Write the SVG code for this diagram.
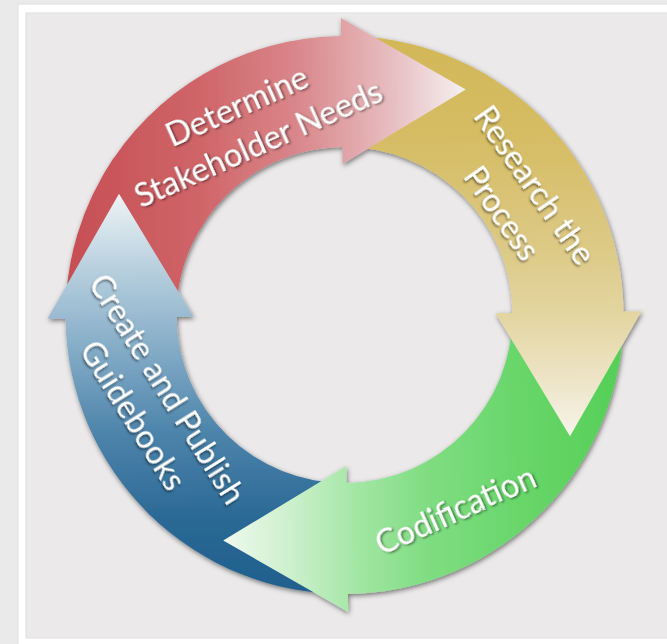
<svg xmlns="http://www.w3.org/2000/svg" width="667" height="644" viewBox="0 0 667 644">
  <style>
    .lbl { font-family: Lato, "Open Sans", "Liberation Sans", sans-serif; font-size: 33px; fill: #ffffff; text-anchor: middle; filter: url(#ts); }
  </style>
  <defs>
    <filter id="sh" x="-20%" y="-20%" width="140%" height="140%">
      <feDropShadow dx="1" dy="2" stdDeviation="2.6" flood-color="#000" flood-opacity="0.5"/>
    </filter>
    <filter id="ts" x="-10%" y="-30%" width="120%" height="160%">
      <feDropShadow dx="1.2" dy="1.5" stdDeviation="0.8" flood-color="#000" flood-opacity="0.55"/>
    </filter>
    <linearGradient id="gRed" gradientUnits="userSpaceOnUse" x1="-278" y1="0" x2="122" y2="0">
      <stop offset="0" stop-color="#c64e54"/>
      <stop offset="0.33" stop-color="#cf6468"/>
      <stop offset="0.58" stop-color="#d9868a"/>
      <stop offset="0.83" stop-color="#e8c0c3"/>
      <stop offset="1" stop-color="#f5eff0"/>
    </linearGradient>
    <linearGradient id="gYel" gradientUnits="userSpaceOnUse" x1="0" y1="-279" x2="0" y2="122">
      <stop offset="0" stop-color="#d2b757"/>
      <stop offset="0.28" stop-color="#d6bd66"/>
      <stop offset="0.53" stop-color="#dcc985"/>
      <stop offset="0.71" stop-color="#e4d6a2"/>
      <stop offset="0.86" stop-color="#ede4c6"/>
      <stop offset="1" stop-color="#f6f3ea"/>
    </linearGradient>
    <linearGradient id="gGrn" gradientUnits="userSpaceOnUse" x1="279" y1="0" x2="-122" y2="0">
      <stop offset="0" stop-color="#55cf55"/>
      <stop offset="0.26" stop-color="#68d66a"/>
      <stop offset="0.5" stop-color="#80dd82"/>
      <stop offset="0.67" stop-color="#a3e6a4"/>
      <stop offset="0.84" stop-color="#cdf0cd"/>
      <stop offset="1" stop-color="#eef9ee"/>
    </linearGradient>
    <linearGradient id="gBlu" gradientUnits="userSpaceOnUse" x1="0" y1="279" x2="0" y2="-121">
      <stop offset="0" stop-color="#1f5f8d"/>
      <stop offset="0.185" stop-color="#2a6895"/>
      <stop offset="0.41" stop-color="#4d84ab"/>
      <stop offset="0.635" stop-color="#88afc9"/>
      <stop offset="0.835" stop-color="#bcd2e0"/>
      <stop offset="1" stop-color="#ecf2f5"/>
    </linearGradient>
  </defs>

  <g id="background">
    <rect x="0" y="0" width="667" height="644" fill="#eaeaea"/>
    <rect x="18" y="4" width="660" height="660" fill="#ffffff" stroke="#dddddd" stroke-width="1"/>
    <rect x="26" y="13" width="650" height="625" fill="#ebe9ea" stroke="#e0dedf" stroke-width="1"/>
  </g>

  <g id="arrows" filter="url(#sh)">
    <g transform="translate(344.5,315) rotate(-0.7)">
      <g id="determine-tail">
        <path d="M -279 0 A 279 279 0 0 1 -228.55 -160.03 L -137.6 -96.36 A 168 168 0 0 0 -168 0 Z" fill="url(#gRed)"/>
      </g>
      <g id="create-publish">
        <path d="M 0 279 A 279 279 0 0 1 -279 0 L -297 0 L -224 -124 L -151 0 L -168 0 A 168 168 0 0 0 0 168 Z" fill="url(#gBlu)"/>
      </g>
      <g id="codification">
        <path d="M 279 0 A 279 279 0 0 1 0 279 L 0 297 L -124 224 L 0 151 L 0 168 A 168 168 0 0 0 168 0 Z" fill="url(#gGrn)"/>
      </g>
      <g id="research">
        <path d="M 0 -279 A 279 279 0 0 1 279 0 L 297 0 L 224 124 L 151 0 L 168 0 A 168 168 0 0 0 0 -168 Z" fill="url(#gYel)"/>
      </g>
      <g id="determine">
        <path d="M -239.16 -143.69 A 279 279 0 0 1 0 -279 L 0 -297 L 124 -224 L 0 -151 L 0 -168 A 168 168 0 0 0 -144.0 -86.52 Z" fill="url(#gRed)"/>
      </g>
    </g>
  </g>

  <g id="labels">
    <text class="lbl" transform="translate(250.25,125.75) rotate(-24)">
      <tspan x="0" y="-12" textLength="152" lengthAdjust="spacingAndGlyphs">Determine</tspan>
      <tspan x="0" y="31" textLength="267" lengthAdjust="spacingAndGlyphs">Stakeholder Needs</tspan>
    </text>
    <text class="lbl" transform="translate(518,202) rotate(55)">
      <tspan x="0" y="-12" textLength="185" lengthAdjust="spacingAndGlyphs">Research the</tspan>
      <tspan x="0" y="31" textLength="106" lengthAdjust="spacingAndGlyphs">Process</tspan>
    </text>
    <text class="lbl" transform="translate(456,511.5) rotate(-24)">
      <tspan x="0" y="9.5" textLength="172" lengthAdjust="spacingAndGlyphs">Codification</tspan>
    </text>
    <text class="lbl" transform="translate(149.75,405) rotate(58)">
      <tspan x="0" y="-12" textLength="264" lengthAdjust="spacingAndGlyphs">Create and Publish</tspan>
      <tspan x="0" y="31" textLength="169" lengthAdjust="spacingAndGlyphs">Guidebooks</tspan>
    </text>
  </g>
</svg>
